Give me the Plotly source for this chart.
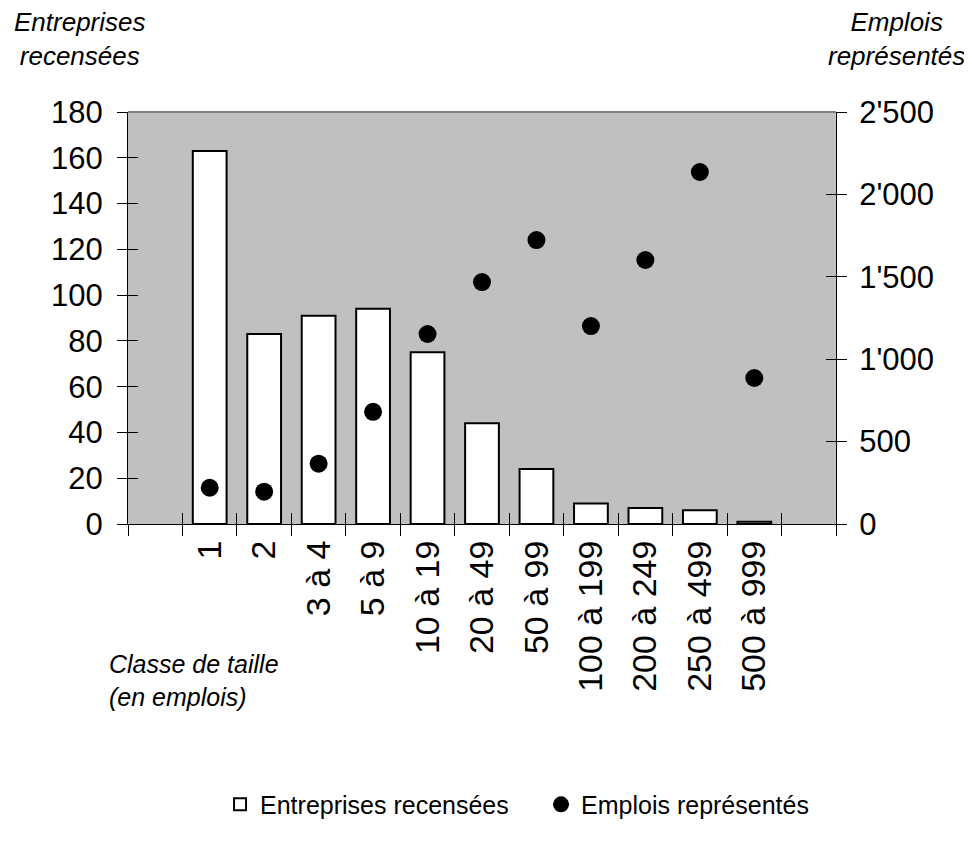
import plotly.graph_objects as go

categories = ["1", "2", "3 à 4", "5 à 9", "10 à 19", "20 à 49", "50 à 99",
              "100 à 199", "200 à 249", "250 à 499", "500 à 999"]
entreprises = [163, 83, 91, 94, 75, 44, 24, 9, 7, 6, 1]
emplois = [220, 196, 366, 681, 1153, 1468, 1723, 1201, 1602, 2136, 886]
left_ticks = list(range(0, 181, 20))
right_ticks = [0, 500, 1000, 1500, 2000, 2500]
slot_order = [" "] + categories + ["  "]

FONT = "Liberation Sans, Arial, sans-serif"

fig = go.Figure()
fig.add_trace(go.Bar(
    x=categories, y=entreprises, name="Entreprises recensées",
    marker=dict(color="white", line=dict(color="black", width=2)),
    width=0.62, xaxis="x", yaxis="y", hoverinfo="x+y"))
fig.add_trace(go.Scatter(
    x=categories, y=emplois, name="Emplois représentés", mode="markers",
    marker=dict(color="black", size=18, symbol="circle"),
    xaxis="x", yaxis="y2"))
# invisible helper traces so that overlay axes (inner half of crossing ticks) are drawn
fig.add_trace(go.Scatter(x=categories, y=entreprises, mode="markers",
                         marker=dict(opacity=0), showlegend=False, hoverinfo="skip",
                         xaxis="x2", yaxis="y"))
fig.add_trace(go.Scatter(x=categories, y=entreprises, mode="markers",
                         marker=dict(opacity=0), showlegend=False, hoverinfo="skip",
                         xaxis="x", yaxis="y3"))
fig.add_trace(go.Scatter(x=categories, y=emplois, mode="markers",
                         marker=dict(opacity=0), showlegend=False, hoverinfo="skip",
                         xaxis="x", yaxis="y4"))

axis_common = dict(showgrid=False, zeroline=False, linecolor="black", linewidth=1,
                   tickcolor="black", tickwidth=1)

fig.update_layout(
    width=964, height=845,
    margin=dict(l=120, r=136, t=104, b=329),
    paper_bgcolor="white", plot_bgcolor="#C0C0C0",
    font=dict(family=FONT, size=31, color="black"),
    separators=".'",
    showlegend=True,
    xaxis=dict(type="category", categoryorder="array", categoryarray=slot_order,
               range=[-0.5, len(slot_order) - 0.5],
               tickson="boundaries", ticks="outside", ticklen=11, tickangle=-90,
               showline=True, ticklabelstandoff=2, tickfont=dict(size=34),
               **axis_common),
    xaxis2=dict(type="category", categoryorder="array", categoryarray=slot_order,
                range=[-0.5, len(slot_order) - 0.5], overlaying="x", side="bottom",
                tickson="boundaries", ticks="inside", ticklen=11,
                showticklabels=False, showline=False, **axis_common),
    yaxis=dict(range=[0, 180], tickvals=left_ticks, ticks="outside", ticklen=10,
               showline=True, ticklabelstandoff=8, **axis_common),
    yaxis3=dict(range=[0, 180], tickvals=left_ticks, ticks="inside", ticklen=10,
                overlaying="y", side="left", showticklabels=False, showline=False,
                **axis_common),
    yaxis2=dict(range=[0, 2500], tickvals=right_ticks, ticks="outside", ticklen=10,
                overlaying="y", side="right", showline=True, ticklabelstandoff=6,
                tickformat=",d", **axis_common),
    yaxis4=dict(range=[0, 2500], tickvals=right_ticks, ticks="inside", ticklen=10,
                overlaying="y", side="right", showticklabels=False, showline=False,
                **axis_common),
    legend=dict(orientation="h", x=0.13, y=-0.681, xanchor="left", yanchor="middle",
                font=dict(size=25), entrywidth=276, bgcolor="rgba(0,0,0,0)"),
    shapes=[dict(type="line", xref="paper", yref="paper", x0=0, x1=1, y0=1, y1=1,
                 line=dict(color="#808080", width=2))],
    annotations=[
        dict(text="<i>Entreprises<br>recensées</i>", xref="paper", yref="paper",
             x=-0.068, y=1.26, xanchor="center", yanchor="top", showarrow=False,
             font=dict(size=26), align="center"),
        dict(text="<i>Emplois<br>représentés</i>", xref="paper", yref="paper",
             x=1.086, y=1.26, xanchor="center", yanchor="top", showarrow=False,
             font=dict(size=26), align="center"),
        dict(text="<i>Classe de taille<br>(en emplois)</i>", xref="paper", yref="paper",
             x=-0.03, y=-0.30, xanchor="left", yanchor="top", showarrow=False,
             font=dict(size=25), align="left"),
    ],
)

fig.write_html("out.html")
